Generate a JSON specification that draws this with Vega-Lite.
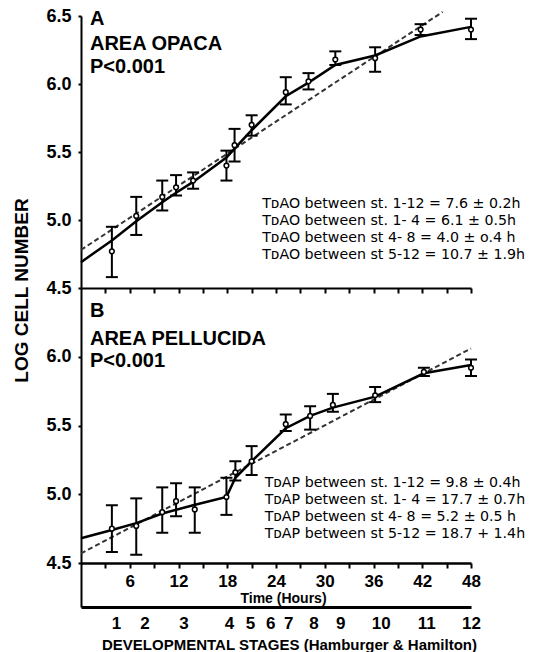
{
  "$schema": "https://vega.github.io/schema/vega-lite/v6.json",
  "padding": {"left": 12, "top": 7, "right": 5, "bottom": 0},
  "background": "white",
  "config": {
    "view": {"stroke": null},
    "font": "Liberation Sans",
    "axis": {"domainColor": "black", "tickColor": "black", "labelColor": "black", "titleColor": "black", "labelFont": "Liberation Sans", "titleFont": "Liberation Sans", "grid": false, "labelFlush": false, "labelOverlap": false, "labelBound": false}
  },
  "datasets": {
    "ao_pts": [
      {"h": 3.8, "m": 4.77, "lo": 4.58, "hi": 4.95},
      {"h": 6.8, "m": 5.03, "lo": 4.89, "hi": 5.17},
      {"h": 10.0, "m": 5.17, "lo": 5.07, "hi": 5.29},
      {"h": 11.7, "m": 5.24, "lo": 5.18, "hi": 5.33},
      {"h": 13.8, "m": 5.29, "lo": 5.23, "hi": 5.35},
      {"h": 17.9, "m": 5.40, "lo": 5.29, "hi": 5.51},
      {"h": 18.9, "m": 5.55, "lo": 5.43, "hi": 5.67},
      {"h": 21.0, "m": 5.70, "lo": 5.62, "hi": 5.77},
      {"h": 25.2, "m": 5.94, "lo": 5.85, "hi": 6.05},
      {"h": 28.0, "m": 6.02, "lo": 5.96, "hi": 6.08},
      {"h": 31.3, "m": 6.18, "lo": 6.14, "hi": 6.24},
      {"h": 36.2, "m": 6.19, "lo": 6.09, "hi": 6.27},
      {"h": 41.8, "m": 6.40, "lo": 6.36, "hi": 6.44},
      {"h": 48.0, "m": 6.40, "lo": 6.33, "hi": 6.48}
    ],
    "ao_fit": [
      {"h": 0, "v": 4.69}, {"h": 3.8, "v": 4.85}, {"h": 6.8, "v": 4.99}, {"h": 10, "v": 5.13},
      {"h": 11.7, "v": 5.20}, {"h": 13.8, "v": 5.28}, {"h": 17.9, "v": 5.46}, {"h": 21, "v": 5.66},
      {"h": 25.2, "v": 5.91}, {"h": 28, "v": 6.01}, {"h": 31.3, "v": 6.14}, {"h": 36.2, "v": 6.21},
      {"h": 41.8, "v": 6.35}, {"h": 48, "v": 6.42}
    ],
    "ao_reg": [{"h": 0, "v": 4.78}, {"h": 44.5, "v": 6.53}],
    "ap_pts": [
      {"h": 3.8, "m": 4.75, "lo": 4.58, "hi": 4.92},
      {"h": 6.8, "m": 4.77, "lo": 4.56, "hi": 4.97},
      {"h": 10.0, "m": 4.87, "lo": 4.72, "hi": 5.05},
      {"h": 11.7, "m": 4.95, "lo": 4.84, "hi": 5.08},
      {"h": 14.0, "m": 4.89, "lo": 4.72, "hi": 5.05},
      {"h": 17.9, "m": 4.98, "lo": 4.85, "hi": 5.12},
      {"h": 19.0, "m": 5.16, "lo": 5.10, "hi": 5.24},
      {"h": 21.0, "m": 5.24, "lo": 5.14, "hi": 5.35},
      {"h": 25.2, "m": 5.51, "lo": 5.46, "hi": 5.58},
      {"h": 28.2, "m": 5.57, "lo": 5.47, "hi": 5.64},
      {"h": 31.0, "m": 5.65, "lo": 5.60, "hi": 5.73},
      {"h": 36.2, "m": 5.72, "lo": 5.67, "hi": 5.78},
      {"h": 42.2, "m": 5.89, "lo": 5.86, "hi": 5.92},
      {"h": 48.0, "m": 5.92, "lo": 5.86, "hi": 5.98}
    ],
    "ap_fit": [
      {"h": 0, "v": 4.68}, {"h": 3.8, "v": 4.74}, {"h": 6.8, "v": 4.79}, {"h": 10, "v": 4.86},
      {"h": 13.8, "v": 4.92}, {"h": 17.9, "v": 4.98}, {"h": 19, "v": 5.12}, {"h": 21, "v": 5.24},
      {"h": 25.2, "v": 5.48}, {"h": 28.2, "v": 5.57}, {"h": 31, "v": 5.63}, {"h": 36.2, "v": 5.71},
      {"h": 42.2, "v": 5.88}, {"h": 48, "v": 5.94}
    ],
    "ap_reg": [{"h": 0, "v": 4.57}, {"h": 48, "v": 6.06}],
    "stages": [
      {"stage": 1, "h": 4.3}, {"stage": 2, "h": 7.8}, {"stage": 3, "h": 12.6}, {"stage": 4, "h": 18.2},
      {"stage": 5, "h": 20.8}, {"stage": 6, "h": 23.3}, {"stage": 7, "h": 25.5}, {"stage": 8, "h": 28.6},
      {"stage": 9, "h": 31.9}, {"stage": 10, "h": 36.9}, {"stage": 11, "h": 42.5}, {"stage": 12, "h": 48}
    ]
  },
  "spacing": 0,
  "bounds": "flush",
  "vconcat": [
    {
      "width": 390,
      "height": 272,
      "resolve": {"scale": {"x": "independent", "y": "independent"}},
      "layer": [
        {
          "encoding": {
            "x": {"field": "h", "type": "quantitative", "scale": {"domain": [0, 48], "nice": false, "zero": false},
              "axis": {"orient": "bottom", "values": [3, 6, 9, 12, 15, 18, 21, 24, 27, 30, 33, 36, 39, 42, 45, 48], "labels": false, "ticks": true, "domain": true, "title": null, "tickSize": 5, "tickWidth": 2, "tickColor": "black", "tickOpacity": 1, "domainWidth": 2, "zindex": 2}}
          },
          "layer": [
            {
              "data": {"name": "ao_reg"},
              "mark": {"type": "line", "strokeDash": [5, 3], "strokeWidth": 2, "color": "#333333"},
              "encoding": {
                "y": {"field": "v", "type": "quantitative", "scale": {"domain": [4.5, 6.5], "nice": false, "zero": false},
                  "axis": {"orient": "left", "values": [4.5, 5, 5.5, 6, 6.5], "format": ".1f", "labels": true, "ticks": true, "labelFontSize": 18, "labelFontWeight": "bold", "tickSize": 3, "tickWidth": 2, "labelPadding": 7, "domainWidth": 2,
                    "title": "LOG CELL NUMBER", "titleFontSize": 19, "titleFontWeight": "bold", "titlePadding": 14, "titleY": 274}}
              }
            },
            {
              "data": {"name": "ao_fit"},
              "mark": {"type": "line", "strokeWidth": 2.5, "color": "black"},
              "encoding": {"y": {"field": "v", "type": "quantitative"}}
            },
            {
              "data": {"name": "ao_pts"},
              "mark": {"type": "rule", "strokeWidth": 2, "color": "black"},
              "encoding": {"y": {"field": "lo", "type": "quantitative"}, "y2": {"field": "hi"}}
            },
            {
              "data": {"name": "ao_pts"},
              "mark": {"type": "tick", "orient": "horizontal", "size": 12, "thickness": 2, "color": "black", "opacity": 1},
              "encoding": {"y": {"field": "lo", "type": "quantitative"}}
            },
            {
              "data": {"name": "ao_pts"},
              "mark": {"type": "tick", "orient": "horizontal", "size": 12, "thickness": 2, "color": "black", "opacity": 1},
              "encoding": {"y": {"field": "hi", "type": "quantitative"}}
            },
            {
              "data": {"name": "ao_pts"},
              "mark": {"type": "point", "shape": "circle", "filled": true, "fill": "white", "stroke": "black", "strokeWidth": 1.5, "size": 22, "opacity": 1},
              "encoding": {"y": {"field": "m", "type": "quantitative"}}
            }
          ]
        },
        {
          "data": {"values": [{}]},
          "encoding": {
            "x": {"datum": 1.1, "type": "quantitative", "scale": {"domain": [0, 48], "nice": false, "zero": false}, "axis": null},
            "y": {"datum": 6.434, "type": "quantitative", "scale": {"domain": [4.5, 6.5], "nice": false, "zero": false}, "axis": null}
          },
          "layer": [
            {
              "mark": {"type": "text", "align": "left", "baseline": "alphabetic", "fontSize": 20, "fontWeight": "bold", "font": "Liberation Sans", "color": "black"},
              "encoding": {"text": {"value": "A"}}
            },
            {
              "mark": {"type": "text", "align": "left", "baseline": "alphabetic", "fontSize": 20, "fontWeight": "bold", "font": "Liberation Sans", "color": "black", "lineHeight": 23},
              "encoding": {"y": {"datum": 6.25, "type": "quantitative"}, "text": {"value": ["AREA OPACA", "P<0.001"]}}
            },
            {
              "mark": {"type": "text", "align": "left", "baseline": "alphabetic", "fontSize": 14.2, "font": "DejaVu Sans", "color": "black", "lineHeight": 17},
              "encoding": {"x": {"datum": 22.3, "type": "quantitative"}, "y": {"datum": 5.09, "type": "quantitative"},
                "text": {"value": ["TᴅAO between st. 1-12 = 7.6 ± 0.2h", "TᴅAO between st. 1- 4 = 6.1 ± 0.5h", "TᴅAO between st 4- 8 = 4.0 ± o.4 h", "TᴅAO between st 5-12 = 10.7 ± 1.9h"]}}
            }
          ]
        }
      ]
    },
    {
      "width": 390,
      "height": 319,
      "resolve": {"scale": {"x": "independent", "y": "independent"}},
      "layer": [
        {
          "encoding": {
            "x": {"field": "h", "type": "quantitative", "scale": {"domain": [0, 48], "nice": false, "zero": false},
              "axis": {"orient": "bottom", "offset": -44, "values": [3, 6, 9, 12, 15, 18, 21, 24, 27, 30, 33, 36, 39, 42, 45, 48], "labelExpr": "datum.value % 6 === 0 ? '' + datum.value : ''",
                "ticks": true, "labels": true, "domain": true, "tickSize": 5, "tickWidth": 2, "tickColor": "black", "tickOpacity": 1, "domainWidth": 2.5, "labelFontSize": 17, "labelFontWeight": "bold", "labelPadding": 5, "zindex": 2,
                "title": "Time (Hours)", "titleFontSize": 14, "titleFontWeight": "bold", "titlePadding": 2, "titleX": 202}}
          },
          "layer": [
            {
              "data": {"name": "ap_reg"},
              "mark": {"type": "line", "strokeDash": [5, 3], "strokeWidth": 2, "color": "#333333"},
              "encoding": {
                "y": {"field": "v", "type": "quantitative", "scale": {"domain": [4.18, 6.5], "nice": false, "zero": false},
                  "axis": {"orient": "left", "values": [4.5, 5, 5.5, 6], "format": ".1f", "labels": true, "ticks": true, "labelFontSize": 18, "labelFontWeight": "bold", "tickSize": 3, "tickWidth": 2, "labelPadding": 7, "domainWidth": 2, "title": null}}
              }
            },
            {
              "data": {"name": "ap_fit"},
              "mark": {"type": "line", "strokeWidth": 2.5, "color": "black"},
              "encoding": {"y": {"field": "v", "type": "quantitative"}}
            },
            {
              "data": {"name": "ap_pts"},
              "mark": {"type": "rule", "strokeWidth": 2, "color": "black"},
              "encoding": {"y": {"field": "lo", "type": "quantitative"}, "y2": {"field": "hi"}}
            },
            {
              "data": {"name": "ap_pts"},
              "mark": {"type": "tick", "orient": "horizontal", "size": 12, "thickness": 2, "color": "black", "opacity": 1},
              "encoding": {"y": {"field": "lo", "type": "quantitative"}}
            },
            {
              "data": {"name": "ap_pts"},
              "mark": {"type": "tick", "orient": "horizontal", "size": 12, "thickness": 2, "color": "black", "opacity": 1},
              "encoding": {"y": {"field": "hi", "type": "quantitative"}}
            },
            {
              "data": {"name": "ap_pts"},
              "mark": {"type": "point", "shape": "circle", "filled": true, "fill": "white", "stroke": "black", "strokeWidth": 1.5, "size": 22, "opacity": 1},
              "encoding": {"y": {"field": "m", "type": "quantitative"}}
            }
          ]
        },
        {
          "data": {"values": [{}]},
          "encoding": {
            "x": {"datum": 1.1, "type": "quantitative", "scale": {"domain": [0, 48], "nice": false, "zero": false}, "axis": null},
            "y": {"datum": 6.289, "type": "quantitative", "scale": {"domain": [4.18, 6.5], "nice": false, "zero": false}, "axis": null}
          },
          "layer": [
            {
              "mark": {"type": "text", "align": "left", "baseline": "alphabetic", "fontSize": 20, "fontWeight": "bold", "font": "Liberation Sans", "color": "black"},
              "encoding": {"text": {"value": "B"}}
            },
            {
              "mark": {"type": "text", "align": "left", "baseline": "alphabetic", "fontSize": 20, "fontWeight": "bold", "font": "Liberation Sans", "color": "black", "lineHeight": 22},
              "encoding": {"y": {"datum": 6.085, "type": "quantitative"}, "text": {"value": ["AREA PELLUCIDA", "P<0.001"]}}
            },
            {
              "mark": {"type": "text", "align": "left", "baseline": "alphabetic", "fontSize": 14.2, "font": "DejaVu Sans", "color": "black", "lineHeight": 17},
              "encoding": {"x": {"datum": 22.6, "type": "quantitative"}, "y": {"datum": 5.05, "type": "quantitative"},
                "text": {"value": ["TᴅAP between st. 1-12 = 9.8 ± 0.4h", "TᴅAP between st. 1- 4 = 17.7 ± 0.7h", "TᴅAP between st 4- 8 = 5.2 ± 0.5 h", "TᴅAP between st 5-12 = 18.7 + 1.4h"]}}
            }
          ]
        },
        {
          "data": {"name": "stages"},
          "mark": {"type": "point", "opacity": 0},
          "encoding": {
            "x": {"field": "h", "type": "quantitative", "scale": {"domain": [0, 48], "nice": false, "zero": false},
              "axis": {"orient": "bottom", "offset": 0, "values": [4.3, 7.8, 12.6, 18.2, 20.8, 23.3, 25.5, 28.6, 31.9, 36.9, 42.5, 48],
                "labelExpr": "'' + (indexof([4.3, 7.8, 12.6, 18.2, 20.8, 23.3, 25.5, 28.6, 31.9, 36.9, 42.5, 48], datum.value) + 1)",
                "ticks": false, "labels": true, "domain": true, "tickSize": 0, "domainWidth": 3, "labelFontSize": 17, "labelFontWeight": "bold", "labelPadding": 8,
                "title": "DEVELOPMENTAL STAGES (Hamburger & Hamilton)", "titleFontSize": 15, "titleFontWeight": "bold", "titlePadding": 6, "titleX": 208}}
          }
        }
      ]
    }
  ]
}
